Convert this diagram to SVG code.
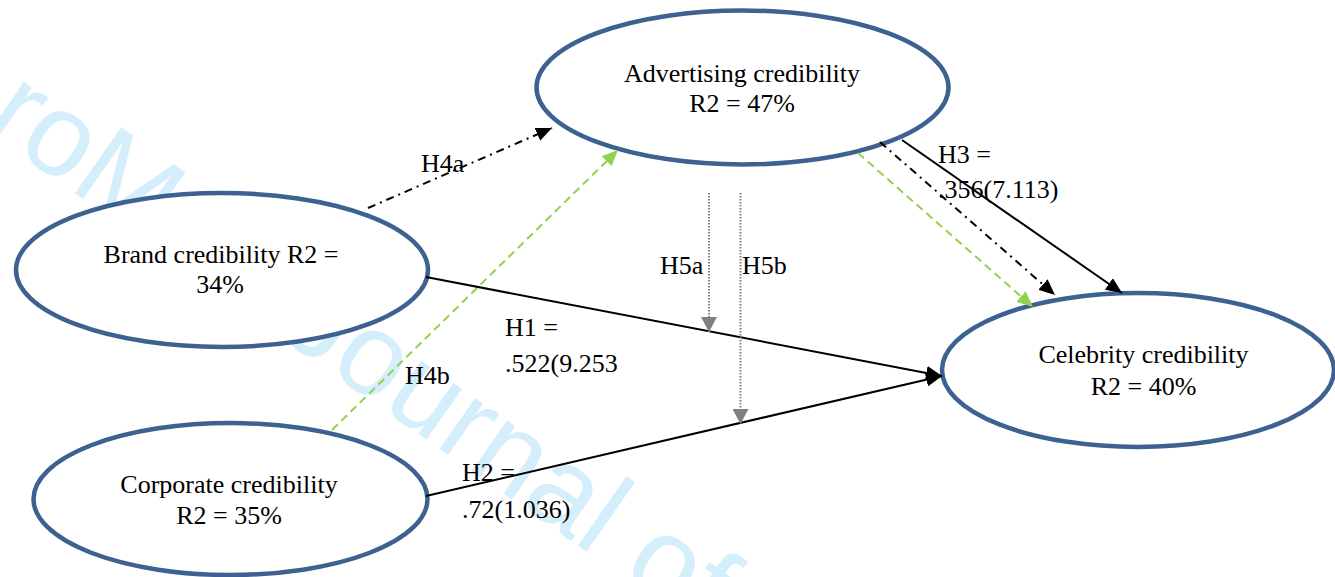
<svg xmlns="http://www.w3.org/2000/svg" width="1335" height="577" viewBox="0 0 1335 577">
<style>
.node{fill:#ffffff;stroke:#3d6190;stroke-width:4.5}
.t{font-family:"Liberation Serif","Times New Roman",serif;font-size:26px;fill:#000}
.c{text-anchor:middle}
.wm{font-family:"Liberation Sans",Arial,sans-serif;font-size:117px;fill:#d4eefb}
.solid{fill:none;stroke:#000;stroke-width:2}
.dd{fill:none;stroke:#000;stroke-width:2;stroke-dasharray:8 5 2 5}
.gr{fill:none;stroke:#92d050;stroke-width:2;stroke-dasharray:8 5}
.dot{fill:none;stroke:#808080;stroke-width:2;stroke-dasharray:1.5 1.5}
</style>
<defs>
<marker id="ab" markerUnits="userSpaceOnUse" markerWidth="16" markerHeight="14" refX="16" refY="7" orient="auto"><path d="M0,0 L16,7 L0,14 z" fill="#000"/></marker>
<marker id="ag" markerUnits="userSpaceOnUse" markerWidth="16" markerHeight="14" refX="16" refY="7" orient="auto"><path d="M0,0 L16,7 L0,14 z" fill="#92d050"/></marker>
<marker id="ay" markerUnits="userSpaceOnUse" markerWidth="16" markerHeight="16" refX="15" refY="8" orient="auto"><path d="M0,0 L15,8 L0,16 z" fill="#808080"/></marker>
</defs>
<rect width="1335" height="577" fill="#fff"/>
<g id="watermark">
<text class="wm" transform="translate(-18,128) rotate(35)">roM</text>
<text class="wm" transform="translate(278.5,336) rotate(35)">Journal of</text>
</g>
<g id="advertising">
<ellipse class="node" cx="742.5" cy="87.5" rx="206" ry="77"/>
<text class="t c" x="742" y="81.5">Advertising credibility</text>
<text class="t c" x="742" y="111.5">R2 = 47%</text>
</g>
<g id="brand">
<ellipse class="node" cx="222" cy="270" rx="206" ry="77"/>
<text class="t c" x="221" y="263">Brand credibility R2 =</text>
<text class="t c" x="220" y="293">34%</text>
</g>
<g id="corporate">
<ellipse class="node" cx="230.5" cy="499" rx="197" ry="76"/>
<text class="t c" x="229" y="493">Corporate credibility</text>
<text class="t c" x="229" y="524">R2 = 35%</text>
</g>
<g id="celebrity">
<ellipse class="node" cx="1138" cy="370" rx="196" ry="77"/>
<text class="t c" x="1143.5" y="363">Celebrity credibility</text>
<text class="t c" x="1143.5" y="395">R2 = 40%</text>
</g>
<g id="connectors">
<line class="dd" x1="368" y1="208" x2="552" y2="128" marker-end="url(#ab)"/>
<line class="gr" x1="332" y1="430" x2="618" y2="150" marker-end="url(#ag)"/>
<line class="solid" x1="426" y1="277" x2="942" y2="376" marker-end="url(#ab)"/>
<line class="solid" x1="426" y1="496" x2="942" y2="376" marker-end="url(#ab)"/>
<line class="solid" x1="902" y1="140" x2="1122" y2="293" marker-end="url(#ab)"/>
<line class="dd" x1="880" y1="142" x2="1055" y2="295" marker-end="url(#ab)"/>
<line class="gr" x1="858" y1="153" x2="1033" y2="307" marker-end="url(#ag)"/>
<line class="dot" x1="709" y1="193" x2="709" y2="332" marker-end="url(#ay)"/>
<line class="dot" x1="740.5" y1="193" x2="740.5" y2="424" marker-end="url(#ay)"/>
<text class="t" x="421" y="172">H4a</text>
<text class="t" x="405" y="384">H4b</text>
<text class="t" x="505" y="336">H1 =</text>
<text class="t" x="505" y="372">.522(9.253</text>
<text class="t" x="462" y="481">H2 =</text>
<text class="t" x="462" y="518">.72(1.036)</text>
<text class="t" x="938" y="163">H3 =</text>
<text class="t" x="938" y="198">.356(7.113)</text>
<text class="t" x="660" y="274">H5a</text>
<text class="t" x="742" y="274">H5b</text>
</g>
</svg>
